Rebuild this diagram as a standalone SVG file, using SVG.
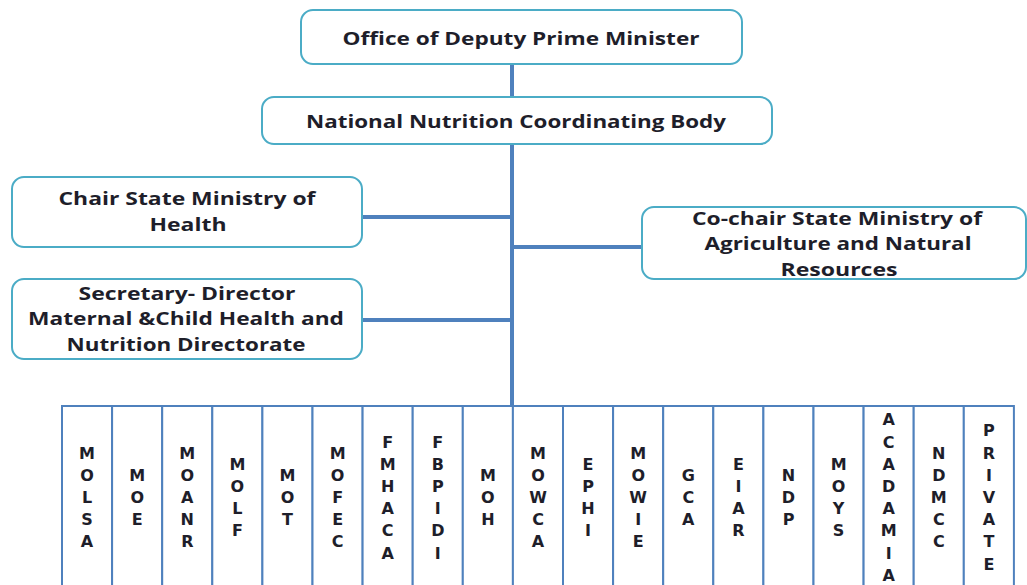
<svg xmlns="http://www.w3.org/2000/svg" width="1027" height="585" viewBox="0 0 1027 585">
  <style>
    .box { fill: #ffffff; stroke: #4bacc6; stroke-width: 2; }
    .col { fill: #ffffff; stroke: #4f81bd; stroke-width: 2; }
    .link { stroke: #4f81bd; stroke-width: 4; fill: none; }
    .lbl { font-family: "Open Sans", "Liberation Sans", sans-serif; font-weight: 700; font-size: 18px; fill: #1e1e2a; text-anchor: middle; }
    .ltr { font-family: "DejaVu Sans", "Liberation Sans", sans-serif; font-weight: 700; font-size: 16px; fill: #1e1e2a; text-anchor: middle; }
  </style>
  <rect width="1027" height="585" fill="#ffffff"/>

  <!-- connectors -->
  <g id="connectors">
    <line class="link" x1="512" y1="64" x2="512" y2="407"/>
    <line class="link" x1="362" y1="217" x2="512" y2="217"/>
    <line class="link" x1="512" y1="247" x2="642" y2="247"/>
    <line class="link" x1="362" y1="320" x2="512" y2="320"/>
  </g>

  <g id="deputy-pm">
    <rect class="box" x="301" y="10" width="441" height="54" rx="12"/>
    <text class="lbl" x="521" y="45" textLength="357" lengthAdjust="spacingAndGlyphs">Office of Deputy Prime Minister</text>
  </g>

  <g id="nncb">
    <rect class="box" x="262" y="97" width="510" height="47" rx="12"/>
    <text class="lbl" x="516" y="128" textLength="420" lengthAdjust="spacingAndGlyphs">National Nutrition Coordinating Body</text>
  </g>

  <g id="chair">
    <rect class="box" x="12" y="177" width="350" height="70" rx="12"/>
    <text class="lbl" x="187" y="205" textLength="257" lengthAdjust="spacingAndGlyphs">Chair State Ministry of</text>
    <text class="lbl" x="188" y="231" textLength="77" lengthAdjust="spacingAndGlyphs">Health</text>
  </g>

  <g id="co-chair">
    <rect class="box" x="642" y="207" width="384" height="72" rx="12"/>
    <text class="lbl" x="837" y="225" textLength="290" lengthAdjust="spacingAndGlyphs">Co-chair State Ministry of</text>
    <text class="lbl" x="838" y="250" textLength="267" lengthAdjust="spacingAndGlyphs">Agriculture and Natural</text>
    <text class="lbl" x="839" y="276" textLength="117" lengthAdjust="spacingAndGlyphs">Resources</text>
  </g>

  <g id="secretary">
    <rect class="box" x="12" y="279" width="350" height="80" rx="12"/>
    <text class="lbl" x="187" y="300" textLength="217" lengthAdjust="spacingAndGlyphs">Secretary- Director</text>
    <text class="lbl" x="186" y="325" textLength="316" lengthAdjust="spacingAndGlyphs">Maternal &amp;Child Health and</text>
    <text class="lbl" x="186" y="351" textLength="239" lengthAdjust="spacingAndGlyphs">Nutrition Directorate</text>
  </g>

  <!-- member institutions, one column each -->
  <g id="molsa">
    <rect class="col" x="62" y="406" width="50.1" height="200"/>
    <text class="ltr" y="458.6"><tspan x="87" dy="0">M</tspan><tspan x="87" dy="22.2">O</tspan><tspan x="87" dy="22.2">L</tspan><tspan x="87" dy="22.2">S</tspan><tspan x="87" dy="22.2">A</tspan></text>
  </g>
  <g id="moe">
    <rect class="col" x="112.1" y="406" width="50.1" height="200"/>
    <text class="ltr" y="480.8"><tspan x="137.2" dy="0">M</tspan><tspan x="137.2" dy="22.2">O</tspan><tspan x="137.2" dy="22.2">E</tspan></text>
  </g>
  <g id="moanr">
    <rect class="col" x="162.2" y="406" width="50.1" height="200"/>
    <text class="ltr" y="458.6"><tspan x="187.3" dy="0">M</tspan><tspan x="187.3" dy="22.2">O</tspan><tspan x="187.3" dy="22.2">A</tspan><tspan x="187.3" dy="22.2">N</tspan><tspan x="187.3" dy="22.2">R</tspan></text>
  </g>
  <g id="molf">
    <rect class="col" x="212.3" y="406" width="50.1" height="200"/>
    <text class="ltr" y="469.7"><tspan x="237.4" dy="0">M</tspan><tspan x="237.4" dy="22.2">O</tspan><tspan x="237.4" dy="22.2">L</tspan><tspan x="237.4" dy="22.2">F</tspan></text>
  </g>
  <g id="mot">
    <rect class="col" x="262.4" y="406" width="50.1" height="200"/>
    <text class="ltr" y="480.8"><tspan x="287.5" dy="0">M</tspan><tspan x="287.5" dy="22.2">O</tspan><tspan x="287.5" dy="22.2">T</tspan></text>
  </g>
  <g id="mofec">
    <rect class="col" x="312.5" y="406" width="50.1" height="200"/>
    <text class="ltr" y="458.6"><tspan x="337.6" dy="0">M</tspan><tspan x="337.6" dy="22.2">O</tspan><tspan x="337.6" dy="22.2">F</tspan><tspan x="337.6" dy="22.2">E</tspan><tspan x="337.6" dy="22.2">C</tspan></text>
  </g>
  <g id="fmhaca">
    <rect class="col" x="362.6" y="406" width="50.1" height="200"/>
    <text class="ltr" y="447.5"><tspan x="387.7" dy="0">F</tspan><tspan x="387.7" dy="22.2">M</tspan><tspan x="387.7" dy="22.2">H</tspan><tspan x="387.7" dy="22.2">A</tspan><tspan x="387.7" dy="22.2">C</tspan><tspan x="387.7" dy="22.2">A</tspan></text>
  </g>
  <g id="fbpidi">
    <rect class="col" x="412.7" y="406" width="50.1" height="200"/>
    <text class="ltr" y="447.5"><tspan x="437.8" dy="0">F</tspan><tspan x="437.8" dy="22.2">B</tspan><tspan x="437.8" dy="22.2">P</tspan><tspan x="437.8" dy="22.2">I</tspan><tspan x="437.8" dy="22.2">D</tspan><tspan x="437.8" dy="22.2">I</tspan></text>
  </g>
  <g id="moh">
    <rect class="col" x="462.8" y="406" width="50.1" height="200"/>
    <text class="ltr" y="480.8"><tspan x="487.9" dy="0">M</tspan><tspan x="487.9" dy="22.2">O</tspan><tspan x="487.9" dy="22.2">H</tspan></text>
  </g>
  <g id="mowca">
    <rect class="col" x="512.9" y="406" width="50.1" height="200"/>
    <text class="ltr" y="458.6"><tspan x="538" dy="0">M</tspan><tspan x="538" dy="22.2">O</tspan><tspan x="538" dy="22.2">W</tspan><tspan x="538" dy="22.2">C</tspan><tspan x="538" dy="22.2">A</tspan></text>
  </g>
  <g id="ephi">
    <rect class="col" x="563" y="406" width="50.1" height="200"/>
    <text class="ltr" y="469.7"><tspan x="588" dy="0">E</tspan><tspan x="588" dy="22.2">P</tspan><tspan x="588" dy="22.2">H</tspan><tspan x="588" dy="22.2">I</tspan></text>
  </g>
  <g id="mowie">
    <rect class="col" x="613.1" y="406" width="50.1" height="200"/>
    <text class="ltr" y="458.6"><tspan x="638.2" dy="0">M</tspan><tspan x="638.2" dy="22.2">O</tspan><tspan x="638.2" dy="22.2">W</tspan><tspan x="638.2" dy="22.2">I</tspan><tspan x="638.2" dy="22.2">E</tspan></text>
  </g>
  <g id="gca">
    <rect class="col" x="663.2" y="406" width="50.1" height="200"/>
    <text class="ltr" y="480.8"><tspan x="688.3" dy="0">G</tspan><tspan x="688.3" dy="22.2">C</tspan><tspan x="688.3" dy="22.2">A</tspan></text>
  </g>
  <g id="eiar">
    <rect class="col" x="713.3" y="406" width="50.1" height="200"/>
    <text class="ltr" y="469.7"><tspan x="738.4" dy="0">E</tspan><tspan x="738.4" dy="22.2">I</tspan><tspan x="738.4" dy="22.2">A</tspan><tspan x="738.4" dy="22.2">R</tspan></text>
  </g>
  <g id="ndp">
    <rect class="col" x="763.4" y="406" width="50.1" height="200"/>
    <text class="ltr" y="480.8"><tspan x="788.5" dy="0">N</tspan><tspan x="788.5" dy="22.2">D</tspan><tspan x="788.5" dy="22.2">P</tspan></text>
  </g>
  <g id="moys">
    <rect class="col" x="813.5" y="406" width="50.1" height="200"/>
    <text class="ltr" y="469.7"><tspan x="838.6" dy="0">M</tspan><tspan x="838.6" dy="22.2">O</tspan><tspan x="838.6" dy="22.2">Y</tspan><tspan x="838.6" dy="22.2">S</tspan></text>
  </g>
  <g id="acadamia">
    <rect class="col" x="863.6" y="406" width="50.1" height="200"/>
    <text class="ltr" y="425.3"><tspan x="888.7" dy="0">A</tspan><tspan x="888.7" dy="22.2">C</tspan><tspan x="888.7" dy="22.2">A</tspan><tspan x="888.7" dy="22.2">D</tspan><tspan x="888.7" dy="22.2">A</tspan><tspan x="888.7" dy="22.2">M</tspan><tspan x="888.7" dy="22.2">I</tspan><tspan x="888.7" dy="22.2">A</tspan></text>
  </g>
  <g id="ndmcc">
    <rect class="col" x="913.7" y="406" width="50.1" height="200"/>
    <text class="ltr" y="458.6"><tspan x="938.8" dy="0">N</tspan><tspan x="938.8" dy="22.2">D</tspan><tspan x="938.8" dy="22.2">M</tspan><tspan x="938.8" dy="22.2">C</tspan><tspan x="938.8" dy="22.2">C</tspan></text>
  </g>
  <g id="private">
    <rect class="col" x="963.8" y="406" width="50.1" height="200"/>
    <text class="ltr" y="436.4"><tspan x="988.9" dy="0">P</tspan><tspan x="988.9" dy="22.2">R</tspan><tspan x="988.9" dy="22.2">I</tspan><tspan x="988.9" dy="22.2">V</tspan><tspan x="988.9" dy="22.2">A</tspan><tspan x="988.9" dy="22.2">T</tspan><tspan x="988.9" dy="22.2">E</tspan></text>
  </g>
</svg>
